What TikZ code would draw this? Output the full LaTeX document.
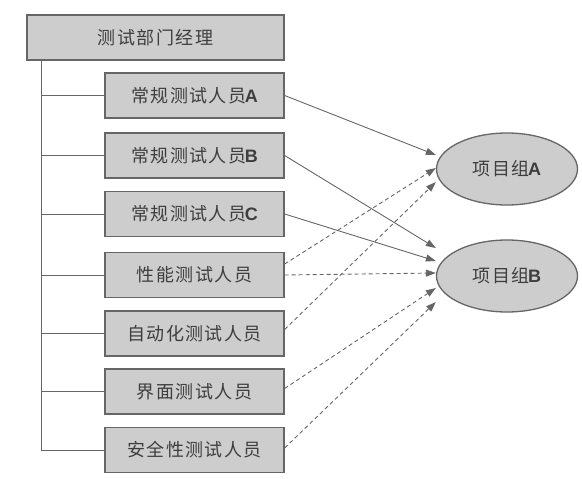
\documentclass[tikz,border=0pt]{standalone}
\usepackage{fontspec}
\setmainfont{Noto Sans CJK SC}[LetterSpace=8]
\newfontfamily\latn{Liberation Sans}
\usepackage{tikz}
\usetikzlibrary{arrows.meta}
\usetikzlibrary{shapes.geometric}
\usepackage{xcolor}
\definecolor{boxgray}{HTML}{CDCDCD}
\definecolor{linegray}{HTML}{666666}
\definecolor{textgray}{HTML}{3E3E3E}
\newcommand{\lt}[1]{\kern-1.5pt{\latn\bfseries #1}}

\begin{document}
\begin{tikzpicture}[x=1pt,y=-1pt,
  box/.style={draw=linegray, fill=boxgray, line width=1.3pt, minimum height=45pt,
    inner sep=0pt, text=textgray, font=\fontsize{18}{21}\selectfont},
  staff/.style={box, minimum width=179pt},
  grp/.style={draw=linegray, fill=boxgray, line width=1.3pt, ellipse, minimum width=141pt,
    minimum height=72pt, inner sep=0pt, text=textgray, font=\fontsize{18}{21}\selectfont},
  tree/.style={draw=linegray, line width=1pt},
  dep/.style={draw=linegray, line width=0.9pt, -{Triangle[length=10pt,width=7pt]}},
  dep2/.style={dep, dash pattern=on 4pt off 3pt}]
\useasboundingbox (0,0) rectangle (582,479);

\node [box, minimum width=257pt] (mgr) at (155.5,37.5) {测试部门经理};
\node [staff] (sa) at (194.5,95.5) {常规测试人员\lt{A}};
\node [staff] (sb) at (194.5,155.5) {常规测试人员\lt{B}};
\node [staff] (sc) at (194.5,214) {常规测试人员\lt{C}};
\node [staff] (perf) at (194.5,275) {性能测试人员};
\node [staff] (auto) at (194.5,333.5) {自动化测试人员};
\node [staff] (ui) at (194.5,391.5) {界面测试人员};
\node [staff] (sec) at (194.5,450) {安全性测试人员};

\node [grp] (ga) at (507,169) {项目组\lt{A}};
\node [grp] (gb) at (507,276) {项目组\lt{B}};

% tree on the left
\coordinate (trunk) at (41,60);
\draw [tree] (trunk) -- (trunk |- sec.west);
\foreach \s in {sa,sb,sc,perf,auto,ui,sec}
  \draw [tree] (trunk |- \s.west) -- (\s.west);

% regular staff
\draw [dep] (sa.east) -- ([yshift=14pt]ga.west);
\draw [dep] (sb.east) -- ([yshift=28pt]gb.west);
\draw [dep] (sc.east) -- ([yshift=15pt]gb.west);
% shared staff
\draw [dep2] ([yshift=11pt]perf.east) -- ([yshift=1pt]ga.west);
\draw [dep2] (perf.east) -- ([yshift=3pt]gb.west);
\draw [dep2] ([yshift=4pt]auto.east) -- ([yshift=-13pt]ga.west);
\draw [dep2] ([yshift=3pt]ui.east) -- ([yshift=-12pt]gb.west);
\draw [dep2] ([yshift=2pt]sec.east) -- ([yshift=-26pt]gb.west);

\end{tikzpicture}
\end{document}
